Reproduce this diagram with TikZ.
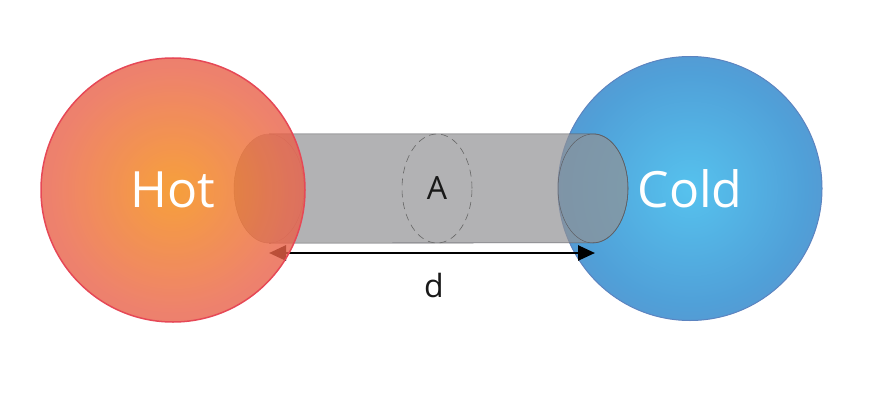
\documentclass[tikz,border=0pt]{standalone}
\usepackage{fontspec}
\setmainfont{Open Sans}
\usetikzlibrary{shapes.geometric,arrows.meta,positioning}

\definecolor{hotin}{RGB}{244,136,10}
\definecolor{hotmid}{RGB}{234,100,70}
\definecolor{hotout}{RGB}{226,74,92}
\definecolor{hotrim}{RGB}{230,72,86}
\definecolor{coldin}{RGB}{86,194,238}
\definecolor{coldmid}{RGB}{80,160,216}
\definecolor{coldout}{RGB}{98,138,198}
\definecolor{coldrim}{RGB}{92,132,192}
\definecolor{tubefill}{RGB}{146,146,148}
\definecolor{tubeline}{RGB}{95,95,100}

\pgfdeclareradialshading{hotball}{\pgfpoint{0bp}{0bp}}{color(0bp)=(hotin); color(22bp)=(hotmid); color(40bp)=(hotout); color(50bp)=(hotout)}
\pgfdeclareradialshading{coldball}{\pgfpoint{0bp}{0bp}}{color(0bp)=(coldin); color(22bp)=(coldmid); color(38bp)=(coldout); color(50bp)=(coldout)}

\begin{document}
\begin{tikzpicture}[
    x=1pt, y=1pt,
    ball/.style={circle, minimum size=264pt, inner sep=0pt, text=white, font=\fontsize{50}{50}\selectfont},
    tubecap/.style={ellipse, minimum width=70pt, minimum height=109pt, inner sep=0pt},
    dim/.style={line width=2.6pt, {Triangle[length=17pt,width=15pt]}-{Triangle[length=17pt,width=15pt]}}
]
\useasboundingbox (0,0) rectangle (870,400);

% Cold side
\node[ball, shading=coldball, draw=coldrim, line width=1pt] (cold) at (690,211.5) {Cold};

% Tube
\node[tubecap] (lcap) at (269,211.5) {};
\node[tubecap] (rcap) at (593,211.5) {};
\fill[tubefill, fill opacity=0.7] (lcap.north) -- (rcap.north)
    arc[start angle=90, end angle=-90, x radius=35pt, y radius=54.5pt]
    -- (lcap.south)
    arc[start angle=270, end angle=90, x radius=35pt, y radius=54.5pt] -- cycle;
\draw[tubeline, line width=0.6pt] (lcap.north) -- (rcap.north)
    arc[start angle=90, end angle=-90, x radius=35pt, y radius=54.5pt]
    -- (lcap.south);
\draw[tubeline!70, line width=0.4pt] (lcap.center) ellipse[x radius=35pt, y radius=54.5pt];
\draw[tubeline, line width=0.5pt] (rcap.center) ellipse[x radius=35pt, y radius=54.5pt];

% Distance
\coordinate (dl) at (269,147);
\coordinate (dr) at (595,147);
\draw[dim] (dl) -- (dr);
\node[font=\fontsize{32}{32}\selectfont, text=black!90] (dlabel) at (434,115) {d};

% Hot side
\node[ball, shading=hotball, draw=hotrim, line width=1.5pt, fill opacity=0.8, draw opacity=1, text opacity=1] (hot) at (173,210) {Hot};

% Cross section
\node[tubecap, draw=black!60, dashed, dash pattern=on 7pt off 5pt, line width=0.6pt, font=\fontsize{32}{32}\selectfont, text=black!90] (area) at (437,211.5) {A};

\end{tikzpicture}
\end{document}
